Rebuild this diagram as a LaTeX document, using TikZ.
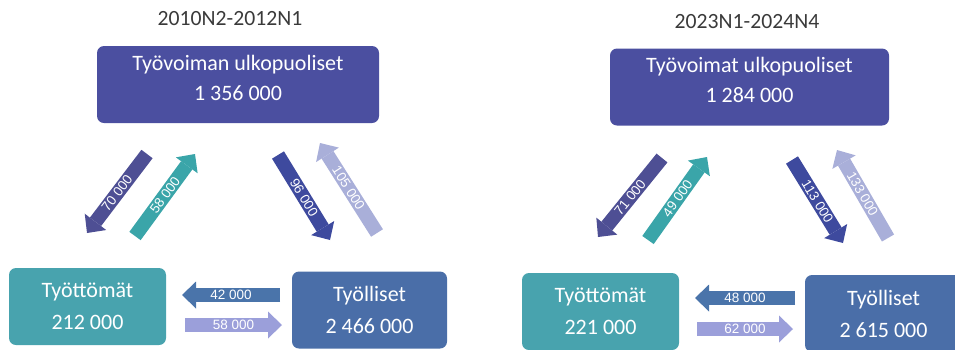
\documentclass[tikz,border=0pt]{standalone}
\usepackage{fontspec}
\setmainfont{Carlito}
\newfontfamily\flowfont{Liberation Sans}
\usetikzlibrary{arrows.meta}

\definecolor{ulkoblue}{HTML}{4B4FA0}
\definecolor{tyotteal}{HTML}{48A3AE}
\definecolor{tyolblue}{HTML}{4A6EA8}
\definecolor{titlegray}{HTML}{3A3A3A}
\definecolor{toutcol}{HTML}{4E4F94}
\definecolor{tincol}{HTML}{3AA5A9}
\definecolor{linflow}{HTML}{3E4A9E}
\definecolor{loutflow}{HTML}{A9AFD9}
\definecolor{lossflow}{HTML}{4A74AA}
\definecolor{gainflow}{HTML}{9B9FDA}

\tikzset{
  period/.style={text=titlegray, font=\fontsize{21.7}{26}\selectfont},
  statebox/.style={rounded corners=7pt, text=white, align=center, inner sep=0pt,
    minimum height=77pt, font=\fontsize{22}{32}\selectfont},
  topbox/.style={statebox, fill=ulkoblue, text depth=14pt, font=\fontsize{22}{30}\selectfont},
  flowarrow/.style={line width=14pt, -{Triangle[width=27pt,length=14pt,line width=0pt]}},
  flowlabel/.style={text=white, font=\flowfont\fontsize{13.5}{15}\selectfont, sloped, midway, inner sep=0pt}
}

\begin{document}
\begin{tikzpicture}[x=1pt,y=-1pt]
\clip (0,0) rectangle (955,349);

% 2010N2-2012N1
\node[period] (per1) at (230,18.5) {2010N2-2012N1};
\node[topbox, minimum width=282pt] (ulko1) at (238,84.5) {Työvoiman ulkopuoliset\\1 356 000};
\node[statebox, fill=tyotteal, minimum width=157pt] (tyot1) at (87.5,306.5) {Työttömät\\212 000};
\node[statebox, fill=tyolblue, minimum width=155pt] (tyol1) at (369.5,310) {Työlliset\\2 466 000};

% 2023N1-2024N4
\node[period] (per2) at (747,21.5) {2023N1-2024N4};
\node[topbox, minimum width=279pt] (ulko2) at (749.5,87) {Työvoimat ulkopuoliset\\1 284 000};
\node[statebox, fill=tyotteal, minimum width=157pt] (tyot2) at (600.5,311.5) {Työttömät\\221 000};
\node[statebox, fill=tyolblue, minimum width=157pt] (tyol2) at (883.5,313.5) {Työlliset\\2 615 000};

% flows
\foreach \n/\tx/\ty/\hx/\hy/\col/\lab in {
    a/147/154/87/233/toutcol/70 000,
    b/135/236/195/154/tincol/58 000,
    c/278/155/330/240/linflow/96 000,
    d/377/233/320/143/loutflow/105 000,
    e/280/295/182/295/lossflow/42 000,
    f/185/325/282/325/gainflow/58 000,
    g/662/158/598/237/toutcol/71 000,
    h/648/240/707/157/tincol/49 000,
    i/792/160/843/243/linflow/113 000,
    j/888/238/837/150/loutflow/133 000,
    k/795/298/695/298/lossflow/48 000,
    l/697/329/793/329/gainflow/62 000}
{
    \coordinate (t\n) at (\tx,\ty);
    \coordinate (h\n) at (\hx,\hy);
    \draw[flowarrow, color=\col] (t\n) -- (h\n) node[flowlabel]{\lab};
}

\end{tikzpicture}
\end{document}
